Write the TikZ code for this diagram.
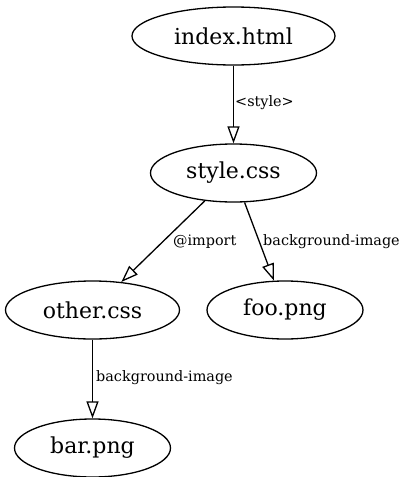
\documentclass[tikz,border=0pt]{standalone}
\usepackage{fontspec}
\setmainfont{DejaVu Serif}
\usetikzlibrary{shapes.geometric,arrows.meta}
\begin{document}
\begin{tikzpicture}[x=1pt,y=-1pt,
  filenode/.style={draw, ellipse, line width=1.3pt, inner sep=0pt, minimum height=58pt, font=\fontsize{22}{24}\selectfont},
  lbl/.style={inner sep=0pt, anchor=west, font=\fontsize{14.4}{16}\selectfont},
  dep/.style={draw, line width=1.3pt, -{Triangle[open, length=17pt, width=12pt, line width=1.3pt]}}]
\useasboundingbox (0,0) rectangle (402,477);
\node[filenode, minimum width=203pt] (index) at (233.5,36) {index.html};
\node[filenode, minimum width=166pt] (style) at (233.5,173) {style.css};
\node[filenode, minimum width=174pt] (other) at (92.5,310) {other.css};
\node[filenode, minimum width=156pt] (foo) at (285,310) {foo.png};
\node[filenode, minimum width=156pt] (bar) at (92.5,448) {bar.png};
\draw[dep] (index) -- (style);
\draw[dep] (style) -- (other);
\draw[dep] (style) -- (foo);
\draw[dep] (other) -- (bar);
\node[lbl] (l1) at (235,103) {<style>};
\node[lbl] (l2) at (173,242) {@import};
\node[lbl] (l3) at (263,242) {background-image};
\node[lbl] (l4) at (96,378) {background-image};
\end{tikzpicture}
\end{document}
